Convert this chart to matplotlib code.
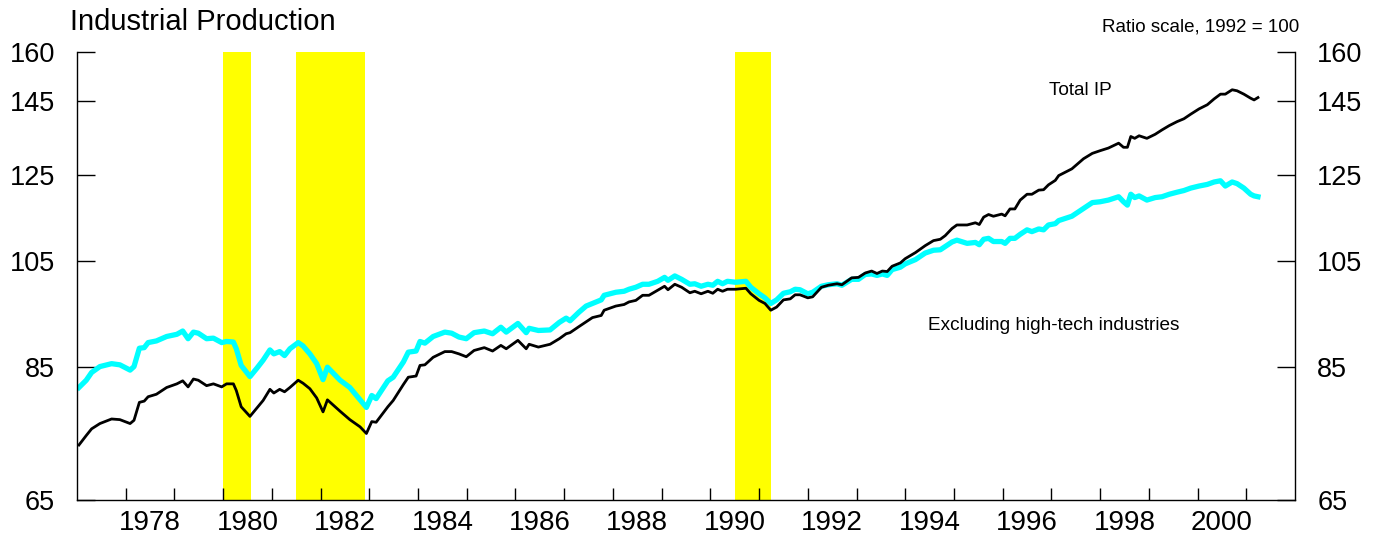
import matplotlib
matplotlib.use('Agg')
import matplotlib.pyplot as plt
import matplotlib.ticker as mticker

plt.rcParams['font.family'] = ['Liberation Sans', 'DejaVu Sans']

# Dates as decimal years
dates = [
    1977.04, 1977.19, 1977.30, 1977.47, 1977.71, 1977.88, 1978.09, 1978.17, 1978.28, 1978.38,
    1978.46, 1978.63, 1978.84, 1979.05, 1979.17, 1979.28, 1979.39, 1979.49, 1979.66, 1979.80,
    1979.97, 1980.07, 1980.21, 1980.27, 1980.37, 1980.55, 1980.69, 1980.82, 1980.96, 1981.04,
    1981.16, 1981.26, 1981.37, 1981.54, 1981.64, 1981.78, 1981.92, 1982.05, 1982.14, 1982.40,
    1982.60, 1982.81, 1982.94, 1983.05, 1983.14, 1983.38, 1983.49, 1983.70, 1983.80, 1983.96,
    1984.04, 1984.14, 1984.31, 1984.55, 1984.69, 1984.84, 1984.99, 1985.15, 1985.36, 1985.53,
    1985.70, 1985.81, 1986.05, 1986.22, 1986.28, 1986.47, 1986.71, 1986.90, 1987.04, 1987.12,
    1987.30, 1987.45, 1987.58, 1987.76, 1987.82, 1988.06, 1988.23, 1988.33, 1988.47, 1988.61,
    1988.74, 1988.92, 1989.06, 1989.13, 1989.27, 1989.41, 1989.58, 1989.68, 1989.81, 1989.95,
    1990.05, 1990.15, 1990.25, 1990.35, 1990.52, 1990.73, 1990.83, 1991.00, 1991.12, 1991.24,
    1991.36, 1991.50, 1991.64, 1991.74, 1991.84, 1992.00, 1992.10, 1992.28, 1992.42, 1992.60,
    1992.70, 1992.90, 1993.04, 1993.18, 1993.31, 1993.42, 1993.53, 1993.63, 1993.73, 1993.90,
    1994.00, 1994.21, 1994.41, 1994.58, 1994.72, 1994.82, 1994.96, 1995.06, 1995.27, 1995.44,
    1995.52, 1995.61, 1995.71, 1995.81, 1995.98, 1996.05, 1996.15, 1996.25, 1996.36, 1996.50,
    1996.60, 1996.74, 1996.84, 1996.94, 1997.08, 1997.15, 1997.42, 1997.66, 1997.84, 1998.00,
    1998.17, 1998.38, 1998.48, 1998.56, 1998.63, 1998.71, 1998.80, 1998.96, 1999.13, 1999.27,
    1999.42, 1999.58, 1999.72, 1999.86, 2000.03, 2000.20, 2000.34, 2000.47, 2000.57, 2000.71,
    2000.81, 2000.95, 2001.09, 2001.16, 2001.24,
]

total_ip = [
    72.6, 74.0, 75.0, 75.8, 76.5, 76.4, 75.8, 76.3, 79.1, 79.3,
    80.0, 80.4, 81.5, 82.1, 82.6, 81.6, 82.9, 82.7, 81.8, 82.1,
    81.6, 82.1, 82.1, 81.0, 78.4, 76.9, 78.2, 79.4, 81.2, 80.6,
    81.2, 80.8, 81.5, 82.7, 82.2, 81.3, 79.8, 77.6, 79.5, 77.7,
    76.4, 75.3, 74.3, 76.1, 76.0, 78.4, 79.4, 82.0, 83.2, 83.4,
    85.2, 85.3, 86.6, 87.6, 87.6, 87.2, 86.7, 87.8, 88.3, 87.7,
    88.7, 88.1, 89.6, 88.1, 88.9, 88.4, 88.9, 89.9, 90.8, 91.0,
    92.1, 93.0, 93.8, 94.2, 95.2, 96.0, 96.3, 96.8, 97.1, 98.1,
    98.1, 99.1, 99.9, 99.2, 100.3, 99.7, 98.6, 98.9, 98.4, 98.9,
    98.5, 99.3, 98.9, 99.3, 99.3, 99.5, 98.4, 97.1, 96.5, 95.2,
    95.8, 97.2, 97.4, 98.2, 98.2, 97.6, 97.8, 99.7, 100.1, 100.4,
    100.2, 101.6, 101.7, 102.6, 103.0, 102.5, 103.0, 102.9, 104.0, 104.7,
    105.6, 106.9, 108.4, 109.5, 109.8, 110.6, 112.2, 113.0, 113.0, 113.5,
    113.1, 114.8, 115.4, 115.0, 115.5, 115.1, 116.7, 116.7, 118.8, 120.2,
    120.2, 121.2, 121.3, 122.5, 123.6, 124.8, 126.5, 129.1, 130.5, 131.2,
    131.9, 133.2, 132.1, 132.1, 135.0, 134.5, 135.2, 134.5, 135.6, 136.8,
    138.0, 139.1, 139.9, 141.2, 142.7, 143.9, 145.6, 147.0, 147.0, 148.3,
    148.0, 147.0, 145.8, 145.3, 146.0,
]

ex_high_tech = [
    81.5, 82.7, 84.0, 85.0, 85.5, 85.3, 84.4, 85.0, 88.2, 88.3,
    89.2, 89.5, 90.3, 90.7, 91.3, 89.9, 91.1, 90.9, 89.9, 90.0,
    89.2, 89.4, 89.3, 88.1, 85.2, 83.3, 84.7, 86.1, 87.9, 87.2,
    87.6, 86.9, 88.1, 89.2, 88.6, 87.2, 85.5, 82.8, 84.9, 82.7,
    81.5, 79.5, 78.3, 80.2, 79.7, 82.6, 83.2, 85.8, 87.5, 87.7,
    89.4, 89.1, 90.3, 91.1, 90.9, 90.2, 89.9, 91.0, 91.3, 90.8,
    92.0, 91.1, 92.7, 91.0, 91.8, 91.4, 91.5, 92.9, 93.7, 93.2,
    94.8, 96.0, 96.5, 97.2, 98.1, 98.7, 98.9, 99.3, 99.7, 100.3,
    100.3, 100.9, 101.7, 101.1, 102.0, 101.3, 100.3, 100.4, 99.9, 100.3,
    100.1, 100.9, 100.4, 100.9, 100.7, 100.9, 99.7, 98.4, 97.6, 96.5,
    97.2, 98.5, 98.8, 99.3, 99.2, 98.4, 98.7, 99.9, 100.2, 100.4,
    100.1, 101.3, 101.3, 102.3, 102.4, 102.1, 102.4, 102.1, 103.3, 103.8,
    104.5, 105.4, 106.8, 107.4, 107.5, 108.2, 109.2, 109.6, 108.9, 109.1,
    108.6, 109.8, 110.0, 109.3, 109.3, 108.9, 110.0, 110.0, 110.9, 111.9,
    111.5, 112.1, 111.9, 113.0, 113.3, 114.0, 115.0, 116.8, 118.2, 118.4,
    118.8, 119.6, 118.4, 117.6, 120.2, 119.4, 119.8, 118.8, 119.4, 119.6,
    120.2, 120.7, 121.1, 121.7, 122.2, 122.6, 123.2, 123.5, 122.2, 123.2,
    122.8, 121.7, 120.2, 119.8, 119.6,
]

# Recession periods (shaded)
recession_starts = [1980.0, 1981.5, 1990.5]
recession_ends = [1980.58, 1982.92, 1991.25]

y_ticks = [65, 85, 105, 125, 145, 160]
year_ticks = list(range(1978, 2002))
year_labels = list(range(1978, 2001, 2))

fig = plt.figure(figsize=(13.84, 5.37), dpi=100)
ax = fig.add_axes([77 / 1384, 1 - 500 / 537, (1295 - 77) / 1384, 448 / 537])

for start, end in zip(recession_starts, recession_ends):
    ax.axvspan(start, end, color='#ffff00', lw=0, zorder=1)

ax.plot(dates, ex_high_tech, color='#00ffff', lw=3.8, zorder=2, solid_joinstyle='round')
ax.plot(dates, total_ip, color='black', lw=2.0, zorder=3, solid_joinstyle='round')

ax.set_yscale('log')
ax.set_ylim(65, 160)
ax.set_xlim(1977.0, 2002.0)

ax.yaxis.set_major_locator(mticker.FixedLocator(y_ticks))
ax.yaxis.set_major_formatter(mticker.FixedFormatter([str(v) for v in y_ticks]))
ax.yaxis.set_minor_locator(mticker.NullLocator())
ax.tick_params(axis='y', which='major', direction='in', length=13, width=1.0,
               left=True, right=True, labelleft=True, labelright=True,
               labelsize=19.5, pad=16)

# year ticks at year starts, labels centred mid-year
ax.xaxis.set_major_locator(mticker.FixedLocator(year_ticks))
ax.xaxis.set_major_formatter(mticker.NullFormatter())
ax.xaxis.set_minor_locator(mticker.FixedLocator([y + 0.5 for y in year_labels]))
ax.xaxis.set_minor_formatter(mticker.FixedFormatter([str(y) for y in year_labels]))
ax.tick_params(axis='x', which='major', direction='in', length=8.5, width=1.0)
ax.tick_params(axis='x', which='minor', length=0, labelsize=20, pad=7)

ax.spines['top'].set_visible(False)
for side in ['left', 'right', 'bottom']:
    ax.spines[side].set_linewidth(1.0)

fig.text(70 / 1384, 1 - 30 / 537, 'Industrial Production', fontsize=21, ha='left', va='baseline')
fig.text(1299 / 1384, 1 - 31.5 / 537, 'Ratio scale, 1992 = 100', fontsize=13.5, ha='right', va='baseline')
fig.text(1049 / 1384, 1 - 95 / 537, 'Total IP', fontsize=13.7, ha='left', va='baseline')
fig.text(928 / 1384, 1 - 330 / 537, 'Excluding high-tech industries', fontsize=13.7, ha='left', va='baseline')

plt.savefig('out.png', dpi=100)
